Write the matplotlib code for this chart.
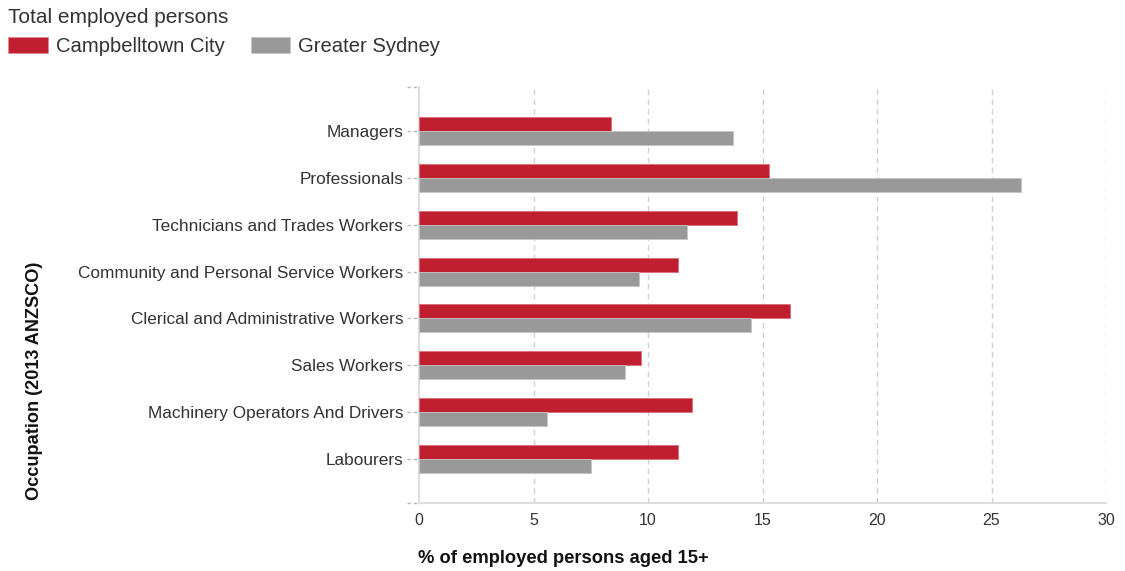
import numpy as np
import matplotlib
matplotlib.use("Agg")
import matplotlib.pyplot as plt
from matplotlib.patches import Patch

categories = [
    "Managers",
    "Professionals",
    "Technicians and Trades Workers",
    "Community and Personal Service Workers",
    "Clerical and Administrative Workers",
    "Sales Workers",
    "Machinery Operators And Drivers",
    "Labourers",
]
campbelltown = [8.4, 15.3, 13.9, 11.3, 16.2, 9.7, 11.9, 11.3]
greater_sydney = [13.7, 26.3, 11.7, 9.6, 14.5, 9.0, 5.6, 7.5]
x_ticks = [0, 5, 10, 15, 20, 25, 30]

RED = "#c01f2f"
GREY = "#999999"
TXT = "#333333"

plt.rcParams["font.family"] = ["Liberation Sans", "DejaVu Sans"]

W, H = 1125, 571
fig = plt.figure(figsize=(W / 100, H / 100), dpi=100)
ax = fig.add_axes([419 / W, 1 - 503 / H, (1106 - 419) / W, (503 - 87) / H])

y = np.arange(len(categories))
bh = 0.3
ax.barh(y - bh / 2, campbelltown, height=bh, color=RED, edgecolor="#d9707a", linewidth=0.6, zorder=3)
ax.barh(y + bh / 2, greater_sydney, height=bh, color=GREY, edgecolor="#c4c4c4", linewidth=0.6, zorder=3)

ax.set_xlim(0, 30)
ax.set_ylim(len(categories) - 1 + 0.95, -0.95)
ax.set_xticks(x_ticks)
ax.set_xticklabels([str(t) for t in x_ticks], fontsize=11.5, color=TXT)
ax.set_yticks(y)
ax.set_yticklabels(categories, fontsize=12.4, color=TXT)
ax.tick_params(axis="x", length=0, pad=7)
ax.tick_params(axis="y", length=0, pad=11.5)

# dashed tick marks on the category axis
tr = ax.get_yaxis_transform()
tick_pos = list(y) + list(ax.get_ylim())
ax.hlines(tick_pos, -0.018, -0.003, transform=tr, colors="#bbbbbb",
          linestyles=(0, (2.5, 2)), linewidth=1, clip_on=False)

for s in ("top", "right"):
    ax.spines[s].set_visible(False)
for s in ("left", "bottom"):
    ax.spines[s].set_color("#dddddd")
    ax.spines[s].set_linewidth(1.5)

for t in x_ticks[1:]:
    ax.axvline(t, color="#d0d0d0", linestyle=(0, (4, 3)), linewidth=1, zorder=1)

fig.text(418 / W, 1 - 563 / H, "% of employed persons aged 15+",
         fontsize=13.2, fontweight="bold", color="#111111", va="baseline", ha="left")
fig.text(26 / W, 1 - 381 / H, "Occupation (2013 ANZSCO)",
         fontsize=13.1, fontweight="bold", color="#111111", rotation=90,
         va="center", ha="left")

fig.text(8 / W, 1 - 23 / H, "Total employed persons", fontsize=15, color=TXT, va="baseline")
handles = [Patch(facecolor=RED, edgecolor="#e08a92", linewidth=0.6, label="Campbelltown City"),
           Patch(facecolor=GREY, edgecolor="#c4c4c4", linewidth=0.6, label="Greater Sydney")]
leg = fig.legend(handles=handles, loc="upper left", bbox_to_anchor=(8 / W, 1 - 37 / H),
                 ncol=2, frameon=False, fontsize=14.6, handlelength=1.95, handleheight=0.8,
                 handletextpad=0.4, columnspacing=1.3, borderpad=0, borderaxespad=0)
for t in leg.get_texts():
    t.set_color(TXT)

fig.savefig("out.png", dpi=100)
